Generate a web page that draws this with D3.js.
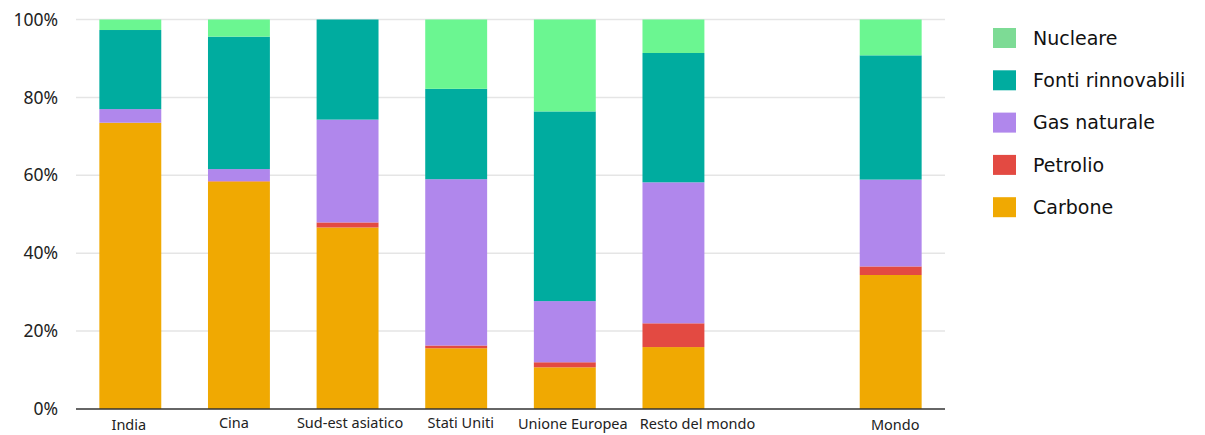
<!DOCTYPE html>
<html>
<head>
<meta charset="utf-8">
<script src="https://cdn.jsdelivr.net/npm/d3@7"></script>
<style>
  html, body { margin: 0; padding: 0; background: #fff; }
  svg { display: block; }
</style>
</head>
<body>
<svg id="chart" width="1205" height="435"></svg>
<script>
// Electricity generation mix by region, share of total (%)
const categories = ["India", "Cina", "Sud-est asiatico", "Stati Uniti", "Unione Europea", "Resto del mondo", "", "Mondo"];
const sources = ["Carbone", "Petrolio", "Gas naturale", "Fonti rinnovabili", "Nucleare"];

const carbone    = [73.5, 58.4, 46.6, 15.6, 10.7, 15.9, null, 34.4];
const petrolio   = [0.0,  0.1,  1.3,  0.7,  1.3,  6.1,  null, 2.2];
const gas        = [3.5,  3.1,  26.4, 42.7, 15.7, 36.2, null, 22.3];
const rinnovabili= [20.3, 34.0, 25.7, 23.2, 48.7, 33.2, null, 31.9];
const nucleare   = [2.7,  4.4,  0.0,  17.8, 23.6, 8.6,  null, 9.2];

const yTicks = [0, 20, 40, 60, 80, 100];
const legendOrder = ["Nucleare", "Fonti rinnovabili", "Gas naturale", "Petrolio", "Carbone"];

const colors = {
  "Carbone": "#F0A902",
  "Petrolio": "#E34A42",
  "Gas naturale": "#B087EC",
  "Fonti rinnovabili": "#00AC9F",
  "Nucleare": "#6BF691"
};
const legendColors = Object.assign({}, colors, { "Nucleare": "#7DDB95" });

const seriesValues = {
  "Carbone": carbone,
  "Petrolio": petrolio,
  "Gas naturale": gas,
  "Fonti rinnovabili": rinnovabili,
  "Nucleare": nucleare
};

// Rows for d3.stack; the empty slot keeps its gap but draws no bar
const keys = categories.map((c, i) => "k" + i);
const rows = categories.map((c, i) => {
  const r = { key: keys[i], label: c, empty: carbone[i] === null };
  sources.forEach(s => { r[s] = seriesValues[s][i] || 0; });
  return r;
});

const svg = d3.select("#chart");
const m = { left: 76, right: 945, top: 19.5, bottom: 409 };

const x = d3.scaleBand().domain(keys).range([m.left, m.right])
  .paddingInner(0.43).paddingOuter(0.215);
const y = d3.scaleLinear().domain([0, 100]).range([m.bottom, m.top]);

// Gridlines
svg.append("g")
  .selectAll("line")
  .data(yTicks.filter(t => t > 0))
  .join("line")
  .attr("x1", m.left).attr("x2", m.right)
  .attr("y1", d => y(d)).attr("y2", d => y(d))
  .attr("stroke", "#e5e5e5").attr("stroke-width", 1.5);

// Stacked bars
const stack = d3.stack().keys(sources);
const layers = stack(rows);
svg.append("g")
  .selectAll("g")
  .data(layers)
  .join("g")
  .attr("fill", d => colors[d.key])
  .selectAll("rect")
  .data(d => d.filter(p => !p.data.empty && p[1] - p[0] > 0))
  .join("rect")
  .attr("x", d => x(d.data.key))
  .attr("width", x.bandwidth())
  .attr("y", d => y(d[1]))
  .attr("height", d => y(d[0]) - y(d[1]));

// Y axis labels
const yAxis = d3.axisLeft(y).tickValues(yTicks).tickFormat(d => d + "%").tickSize(0).tickPadding(18);
const gy = svg.append("g").attr("transform", `translate(${m.left},0)`).call(yAxis);
gy.select(".domain").remove();
gy.selectAll("text")
  .attr("fill", "#222")
  .style("font-family", "'Noto Sans', sans-serif")
  .style("font-size", "17.5px");

// X axis baseline and labels
// small per-label nudges so long names don't collide with their neighbours
const labelDx = [-1.5, -5, 2.5, 4.5, 8, 24, 0, 4.5];
const labelDy = [1.5, 0, 0, 0, 0.5, 0.5, 0, 2];
const xAxis = d3.axisBottom(x).tickFormat((k, i) => categories[i]).tickSize(0).tickPadding(9);
const gx = svg.append("g").attr("transform", `translate(0,${m.bottom})`).call(xAxis);
gx.select(".domain").attr("stroke", "#333").attr("stroke-width", 1.5)
  .attr("d", `M${m.left},0H${m.right}`);
gx.selectAll(".tick text")
  .attr("fill", "#222")
  .attr("transform", (d, i) => `translate(${labelDx[i]},${labelDy[i]})`)
  .style("font-family", "'Noto Sans', sans-serif")
  .style("font-size", "14.5px");

// Legend
const legend = svg.append("g").attr("transform", "translate(993,28)");
const item = legend.selectAll("g")
  .data(legendOrder)
  .join("g")
  .attr("transform", (d, i) => `translate(0,${i * 42.3})`);
item.append("rect")
  .attr("width", 23).attr("height", 20)
  .attr("fill", d => legendColors[d]);
item.append("text")
  .attr("x", 40).attr("y", 10)
  .attr("dy", "0.35em")
  .attr("fill", "#111")
  .style("font-family", "'DejaVu Sans', sans-serif")
  .style("font-size", "19px")
  .text(d => d);
</script>
</body>
</html>
